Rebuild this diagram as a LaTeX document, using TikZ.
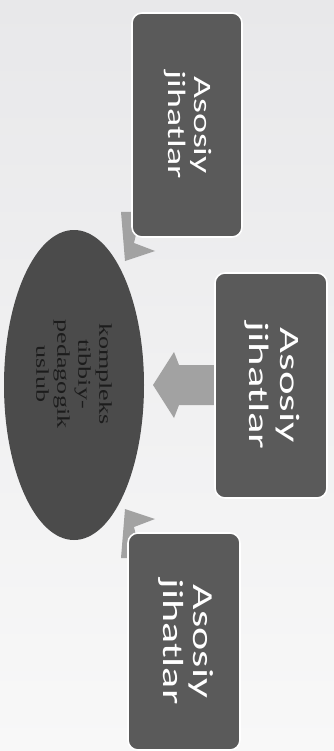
\documentclass[tikz,border=0pt]{standalone}
\usepackage{fontspec}
\usepackage{graphicx}
\newfontfamily\boxfont{Carlito}
\newfontfamily\elfont{Liberation Serif}
\usetikzlibrary{shapes.geometric}
\definecolor{boxgray}{HTML}{5A5A5A}
\definecolor{elgray}{HTML}{4B4B4B}
\definecolor{arrgray}{HTML}{A2A2A2}
\definecolor{eltextc}{HTML}{1C1C1C}
\definecolor{bgtop}{HTML}{E8E8EA}
\definecolor{bgbot}{HTML}{F8F8F8}
\tikzset{
  abox/.style={rectangle, rounded corners=10pt, fill=boxgray, draw=white,
    line width=1.6pt, rotate=-90, inner sep=0pt, text=white,
    minimum width=224pt, minimum height=110pt},
  arrowshape/.style={fill=arrgray, draw=none},
}
\newcommand{\boxtext}[4]{{\boxfont\fontsize{#1}{#2}\selectfont\scalebox{#3}[1]{\begin{tabular}{@{}c@{}}#4\end{tabular}}}}
\begin{document}
\begin{tikzpicture}[x=1pt,y=-1pt]
\shade[top color=bgtop,bottom color=bgbot] (0,0) rectangle (334,751);
\useasboundingbox (0,0) rectangle (334,751);
% small arrows
\fill[arrowshape] (121,212) -- (125,261) -- (155,251) -- (134,243) -- (137,230) -- (137,212) -- cycle;
\fill[arrowshape] (121,558) -- (125,509) -- (155,519) -- (134,527) -- (137,540) -- (137,558) -- cycle;
% middle arrow
\fill[arrowshape] (153,385) -- (174,352) -- (179,365) -- (224,365) -- (224,405) -- (179,405) -- (174,418) -- cycle;
% boxes
\node[abox] (top) at (187,125) {\boxtext{25}{26}{1.52}{Asosiy\\jihatlar}};
\node[abox, minimum width=225pt, minimum height=112pt] (mid) at (271,385.5) {\boxtext{28}{31}{1.6}{Asosiy\\jihatlar}};
\node[abox, minimum width=217pt, minimum height=112pt] (bot) at (184,641.5) {\boxtext{29}{30}{1.52}{Asosiy\\jihatlar}};
% ellipse
\node[ellipse, fill=elgray, minimum width=310pt, minimum height=140pt, rotate=-90, inner sep=0pt] (el) at (74,385) {};
\node[rotate=-90, text=eltextc, inner sep=0pt] (eltxt) at (72,374) {{\elfont\fontsize{18}{21}\selectfont\scalebox{1.45}[1]{\begin{tabular}{@{}c@{}}kompleks\\tibbiy-\\pedagogik\\uslub\end{tabular}}}};
\end{tikzpicture}
\end{document}
